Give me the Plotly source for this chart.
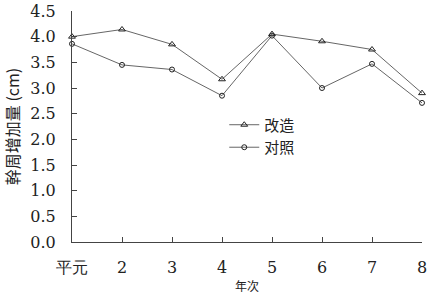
import plotly.graph_objects as go

years = [1, 2, 3, 4, 5, 6, 7, 8]
tick_labels = ["平元", "2", "3", "4", "5", "6", "7", "8"]
gaizao = [4.00, 4.14, 3.85, 3.17, 4.05, 3.91, 3.75, 2.90]
duizhao = [3.86, 3.45, 3.36, 2.85, 4.02, 3.00, 3.47, 2.71]
y_ticks = [0.0, 0.5, 1.0, 1.5, 2.0, 2.5, 3.0, 3.5, 4.0, 4.5]

serif = "DejaVu Serif"
cjk = "Noto Sans CJK SC"
line_color = "#666666"
fig = go.Figure()
fig.add_trace(go.Scatter(
    x=years, y=gaizao, name="改造", mode="lines+markers",
    line=dict(color=line_color, width=1),
    marker=dict(symbol="triangle-up-open", size=6, color="#222222", line=dict(width=1)),
    cliponaxis=False,
))
fig.add_trace(go.Scatter(
    x=years, y=duizhao, name="对照", mode="lines+markers",
    line=dict(color=line_color, width=1),
    marker=dict(symbol="circle-open", size=5, color="#222222", line=dict(width=1)),
    cliponaxis=False,
))

fig.update_layout(
    width=434, height=297,
    margin=dict(l=72, r=12, t=11, b=55),
    paper_bgcolor="white", plot_bgcolor="white",
    showlegend=True,
    legend=dict(x=0.435, y=0.578, xanchor="left", yanchor="top",
                font=dict(family=cjk, size=15, color="#222222"),
                bgcolor="rgba(0,0,0,0)", tracegroupgap=0, itemwidth=30),
    font=dict(family=serif, color="#222222"),
)
fig.update_xaxes(
    range=[1, 8], tickmode="array", tickvals=years, ticktext=tick_labels,
    ticks="inside", ticklen=5, tickcolor="#444444",
    showline=True, linecolor="#444444", linewidth=1,
    showgrid=False, zeroline=False, automargin=False,
    tickfont=dict(family=serif, size=16, color="#222222"),
    ticklabelstandoff=11,
    title=dict(text="年次", font=dict(family=cjk, size=12, color="#222222"), standoff=6),
)
fig.update_yaxes(
    range=[0, 4.5], tickmode="array", tickvals=y_ticks,
    ticktext=[f"{v:.1f}" for v in y_ticks],
    ticks="inside", ticklen=5, tickcolor="#444444",
    showline=True, linecolor="#444444", linewidth=1,
    showgrid=False, zeroline=False, automargin=False,
    tickfont=dict(family=serif, size=16, color="#222222"),
    ticklabelstandoff=12,
    title=dict(text="幹周增加量 (cm)", font=dict(family=cjk, size=16, color="#222222"), standoff=11),
)

fig.write_html("out.html")
